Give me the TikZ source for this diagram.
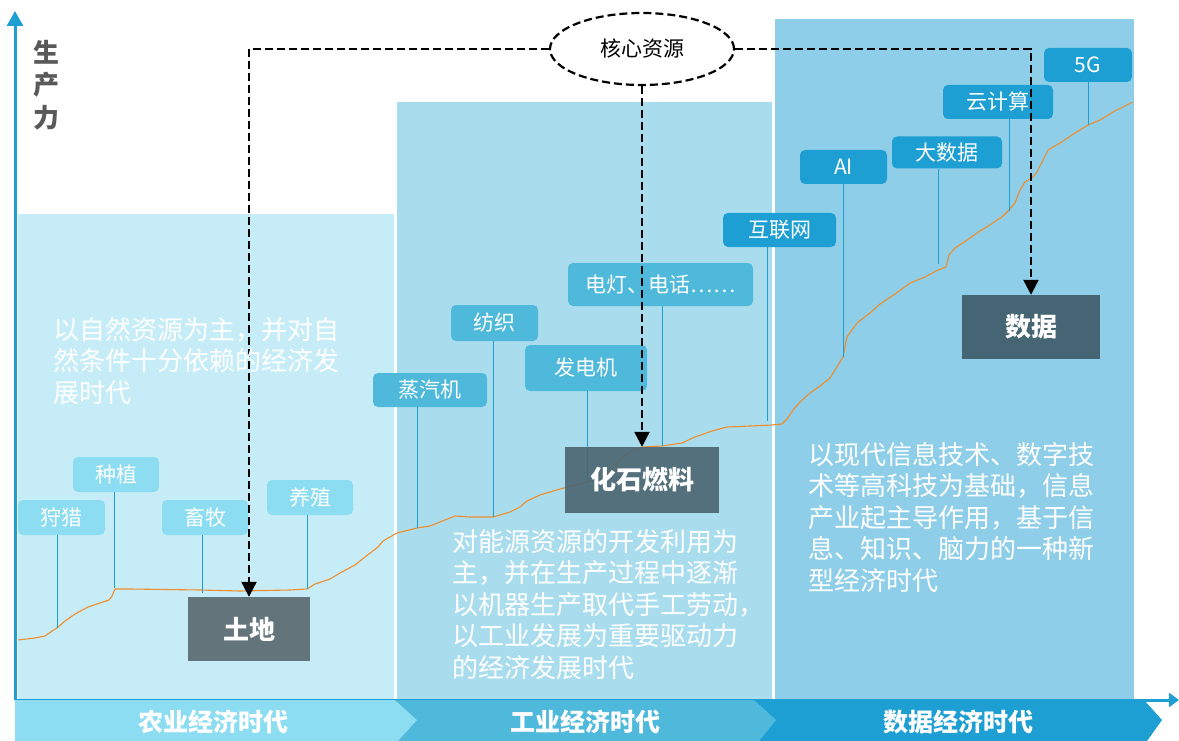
\documentclass[tikz,border=0pt]{standalone}
\usepackage{fontspec}
\setmainfont{Noto Sans CJK SC}
\usetikzlibrary{arrows.meta,shapes.geometric}
\definecolor{axisblue}{HTML}{1E9FD4}
\definecolor{agripanel}{HTML}{C6EDF7}
\definecolor{indpanel}{HTML}{A9DDEE}
\definecolor{datapanel}{HTML}{8ECEE8}
\definecolor{agrilab}{HTML}{8CDDF1}
\definecolor{indlab}{HTML}{4FB9DC}
\definecolor{datalab}{HTML}{1E9FD3}
\definecolor{curveor}{HTML}{F08C2A}
\definecolor{tudic}{HTML}{63747B}
\definecolor{fossilc}{HTML}{4B6570}
\definecolor{shujuc}{HTML}{466574}
\definecolor{axtext}{HTML}{595959}
\tikzset{
  lab/.style={rounded corners=5pt, text=white, inner sep=0pt, minimum height=35pt,
    font=\fontsize{21}{21}\selectfont},
  agril/.style={lab, fill=agrilab},
  indl/.style={lab, fill=indlab},
  datal/.style={lab, fill=datalab},
  stem/.style={draw=axisblue, line width=0.9pt},
  resbox/.style={inner sep=0pt, text=white, font=\fontsize{26}{26}\selectfont\bfseries},
  para/.style={anchor=north west, inner sep=0pt, align=left, text=white,
    font=\fontsize{26}{31.5}\selectfont},
  dashc/.style={draw=black, line width=2.2pt, dash pattern=on 8pt off 4pt,
    -{Triangle[width=15pt,length=15pt]}},
  band/.style={text=white, font=\fontsize{25}{25}\selectfont\bfseries}
}
\begin{document}
\begin{tikzpicture}[x=1pt,y=-1pt]
\useasboundingbox (0,0) rectangle (1179,741);
\fill[white] (0,0) rectangle (1179,741);
% panels
\fill[agripanel] (18,214) rectangle (394,700);
\fill[indpanel] (397,102) rectangle (772,700);
\fill[datapanel] (775,19) rectangle (1134,700);
% axes
\draw[axisblue, line width=3pt, -{Triangle[width=16pt,length=15pt]}] (15,700) -- (15,11);
\draw[axisblue, line width=3pt, -{Triangle[width=14pt,length=10pt]}] (15,700) -- (1179,700);
\node[font=\fontsize{26}{32.5}\selectfont\bfseries, text=axtext, align=center, inner sep=0pt] (ylab) at (46,85) {生\\产\\力};
% curve
\draw[curveor, line width=1.1pt, line join=round]
 (18,640) -- (35,638) -- (45,636) -- (52,631) -- (57,628) -- (65,621) -- (75,614) -- (88,607) -- (100,603) -- (109,600) -- (112,596) -- (115,589) -- (130,589) -- (200,590) -- (240,591) -- (290,590) -- (307,589) -- (315,584) -- (330,579) -- (340,573) -- (355,565) -- (365,557) -- (378,547) -- (383,541) -- (397,533) -- (405,531) -- (417,528) -- (430,526) -- (440,522) -- (455,516) -- (470,517) -- (493,517) -- (510,512) -- (520,507) -- (527,501) -- (540,495) -- (560,489) -- (587,482) -- (600,479) -- (612,470) -- (618,461) -- (630,452) -- (642,447) -- (662,446) -- (682,443) -- (695,437) -- (712,431) -- (727,427) -- (750,426) -- (772,425) -- (782,424) -- (787,419) -- (793,410) -- (800,402) -- (810,393) -- (820,386) -- (830,378) -- (843,357) -- (847,337) -- (857,323) -- (870,313) -- (880,304) -- (895,294) -- (910,283) -- (925,277) -- (938,270) -- (946,267) -- (949,255) -- (955,248) -- (967,240) -- (980,231) -- (993,223) -- (1003,216) -- (1009,210) -- (1015,203) -- (1020,190) -- (1025,182) -- (1033,177) -- (1037,172) -- (1043,160) -- (1048,150) -- (1060,143) -- (1075,133) -- (1088,125) -- (1100,120) -- (1113,112) -- (1125,106) -- (1133,102);
% stem end coordinates
\coordinate (s1) at (57,628);
\coordinate (s2) at (114,588);
\coordinate (s3) at (202,593);
\coordinate (s4) at (307,589);
\coordinate (s5) at (417,528);
\coordinate (s6) at (493,517);
\coordinate (s7) at (587,482);
\coordinate (s8) at (662,446);
\coordinate (s9) at (767,421);
\coordinate (s10) at (843,357);
\coordinate (s11) at (938,264);
\coordinate (s12) at (1009,211);
\coordinate (s13) at (1088,125);
% labels
\node[agril, minimum width=87pt] (l1) at (61.5,517.5) {狩猎};
\node[agril, minimum width=86pt] (l2) at (116,474.5) {种植};
\node[agril, minimum width=86pt] (l3) at (205,517.5) {畜牧};
\node[agril, minimum width=86pt] (l4) at (310,497.5) {养殖};
\node[indl, minimum width=114pt, minimum height=34pt] (l5) at (430,390) {蒸汽机};
\node[indl, minimum width=87pt, minimum height=36pt] (l6) at (494.5,323) {纺织};
\node[indl, minimum width=122pt, minimum height=46pt] (l7) at (586,368) {发电机};
\node[indl, minimum width=185pt, minimum height=43pt] (l8) at (660.5,284.5) {电灯、电话……};
\node[datal, minimum width=113pt, minimum height=34pt] (l9) at (779.5,230) {互联网};
\node[datal, minimum width=87pt, minimum height=34pt] (l10) at (843.5,167) {AI};
\node[datal, minimum width=110pt, minimum height=32pt] (l11) at (947,152.5) {大数据};
\node[datal, minimum width=110pt, minimum height=34pt] (l12) at (998,102) {云计算};
\node[datal, minimum width=88pt, minimum height=34pt] (l13) at (1088,65) {5G};
% stems
\foreach \i in {1,...,13} {\draw[stem] (l\i.south -| s\i) -- (s\i);}
% resource boxes
\node[resbox, fill=tudic, minimum width=122pt, minimum height=64pt] (tudi) at (249,629) {土地};
\node[resbox, fill=fossilc, fill opacity=0.9, text opacity=1, minimum width=154pt, minimum height=66pt] (fossil) at (642,480) {化石燃料};
\node[resbox, fill=shujuc, minimum width=138pt, minimum height=64pt] (shuju) at (1031,327) {数据};
% core resource ellipse
\node[ellipse, draw=black, fill=white, line width=2.2pt, dash pattern=on 8pt off 4pt, minimum width=184pt, minimum height=72pt, inner sep=0pt, font=\fontsize{21}{21}\selectfont] (res) at (642,49) {核心资源};
\draw[dashc] (res.west) -| (tudi.north);
\draw[dashc] (res.south) -- (fossil.north);
\draw[dashc] (res.east) -| (shuju.north);
% paragraphs
\node[para] (t1) at (53,317) {以自然资源为主，并对自\\然条件十分依赖的经济发\\展时代};
\node[para] (t2) at (452,529) {对能源资源的开发利用为\\主，并在生产过程中逐渐\\以机器生产取代手工劳动，\\以工业发展为重要驱动力\\的经济发展时代};
\node[para] (t3) at (808,442) {以现代信息技术、数字技\\术等高科技为基础，信息\\产业起主导作用，基于信\\息、知识、脑力的一种新\\型经济时代};
% bottom bands
\fill[agrilab] (15,700) -- (395,700) -- (417,720) -- (398,741) -- (15,741) -- cycle;
\fill[indlab] (395,700) -- (754,700) -- (776,720) -- (759,741) -- (398,741) -- (417,720) -- cycle;
\fill[datalab] (754,700) -- (1144,700) -- (1162,720) -- (1147,741) -- (759,741) -- (776,720) -- cycle;
\node[band] (b1) at (213,722) {农业经济时代};
\node[band] (b2) at (585,722) {工业经济时代};
\node[band] (b3) at (958,722) {数据经济时代};
\end{tikzpicture}
\end{document}
